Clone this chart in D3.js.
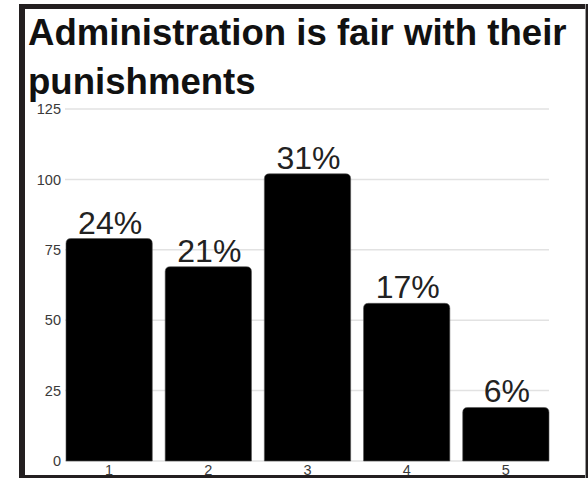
<!DOCTYPE html>
<html>
<head>
<meta charset="utf-8">
<script src="https://cdn.jsdelivr.net/npm/d3@7"></script>
<style>
  html, body { margin: 0; padding: 0; background: #fff; }
  svg { display: block; }
</style>
</head>
<body>
<script>
const titleLines = ["Administration is fair with their", "punishments"];
const categories = ["1", "2", "3", "4", "5"];
const counts = [79, 69, 102, 56, 19];
const percentLabels = ["24%", "21%", "31%", "17%", "6%"];
const yTicks = [0, 25, 50, 75, 100, 125];

const W = 588, H = 478;
const FONT = "'Liberation Sans', Arial, sans-serif";
const svg = d3.select("body").append("svg").attr("width", W).attr("height", H);

svg.append("rect").attr("width", W).attr("height", H).attr("fill", "#fff");

const x = d3.scaleBand().domain(categories).range([66, 549]).paddingInner(0.13).paddingOuter(0);
const y = d3.scaleLinear().domain([0, 125]).range([461, 109]);

// gridlines
svg.append("g").selectAll("line").data(yTicks).join("line")
  .attr("x1", 65).attr("x2", 549)
  .attr("y1", d => y(d)).attr("y2", d => y(d))
  .attr("stroke", "#e2e2e2").attr("stroke-width", 1.5);

// y axis labels
const yAxis = d3.axisLeft(y).tickValues(yTicks).tickSize(0).tickPadding(0);
const gy = svg.append("g").attr("transform", "translate(61,0)").call(yAxis);
gy.select(".domain").remove();
gy.selectAll("text").attr("font-family", FONT)
  .style("font-size", "14.5px").attr("fill", "#3a3a3a");

// x axis labels
const xAxis = d3.axisBottom(x).tickSize(0).tickPadding(4);
const gx = svg.append("g").attr("transform", "translate(0,461)").call(xAxis);
gx.select(".domain").remove();
gx.selectAll("text").attr("font-family", FONT)
  .style("font-size", "14.5px").attr("fill", "#3a3a3a");

// bars with rounded top corners
const r = 5;
function barPath(x0, w, yTop, yBase) {
  return `M${x0},${yBase}V${yTop + r}Q${x0},${yTop} ${x0 + r},${yTop}H${x0 + w - r}Q${x0 + w},${yTop} ${x0 + w},${yTop + r}V${yBase}Z`;
}
svg.append("g").selectAll("path").data(counts).join("path")
  .attr("d", (d, i) => barPath(x(categories[i]), x.bandwidth(), y(d), y(0)))
  .attr("fill", "#000").attr("stroke", "#555").attr("stroke-width", 0.6);

// percent labels
svg.append("g").selectAll("text").data(counts).join("text")
  .attr("x", (d, i) => x(categories[i]) + x.bandwidth() / 2 + 1)
  .attr("y", d => y(d) - 5)
  .attr("text-anchor", "middle")
  .attr("font-family", FONT)
  .attr("font-size", 32).attr("fill", "#222")
  .text((d, i) => percentLabels[i]);

// title
svg.append("g").selectAll("text").data(titleLines).join("text")
  .attr("x", 28).attr("y", (d, i) => 45 + i * 49)
  .attr("font-family", FONT)
  .attr("font-weight", "bold").attr("font-size", 36.6).attr("fill", "#111")
  .text(d => d);

// frame
svg.append("rect").attr("x", 19).attr("y", 4).attr("width", W - 19).attr("height", 5).attr("fill", "#231f20");
svg.append("rect").attr("x", 19).attr("y", 4).attr("width", 6).attr("height", H - 4).attr("fill", "#231f20");
svg.append("rect").attr("x", 19).attr("y", 475).attr("width", W - 19).attr("height", 3).attr("fill", "#231f20");
svg.append("rect").attr("x", 585).attr("y", 4).attr("width", 1).attr("height", H - 4).attr("fill", "#999");
svg.append("rect").attr("x", 586).attr("y", 4).attr("width", 2).attr("height", H - 4).attr("fill", "#231f20");
</script>
</body>
</html>
